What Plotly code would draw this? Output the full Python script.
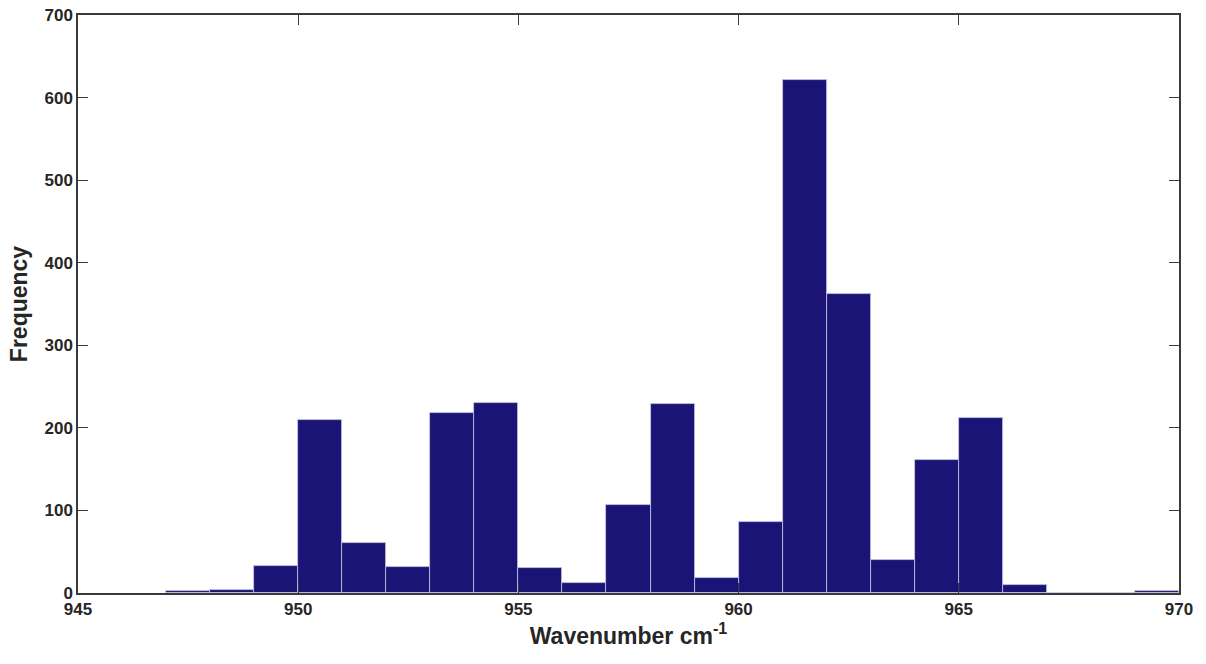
import plotly.graph_objects as go

bin_left = [947, 948, 949, 950, 951, 952, 953, 954, 955, 956, 957, 958, 959,
            960, 961, 962, 963, 964, 965, 966, 967, 968, 969]
counts = [2, 4, 33, 210, 61, 32, 218, 230, 30, 12, 107, 229, 18,
          86, 621, 362, 40, 161, 212, 10, 0, 0, 2]
x_ticks = [945, 950, 955, 960, 965, 970]
y_ticks = [0, 100, 200, 300, 400, 500, 600, 700]

fig = go.Figure(go.Bar(
    x=bin_left, y=counts, offset=0, width=1,
    marker=dict(color="#1a1476", line=dict(color="#c8c8e6", width=0.8)),
))

axis_common = dict(
    showline=True, linecolor="#3a3a3a", linewidth=1.5, mirror="ticks",
    ticks="inside", ticklen=10, tickwidth=1.2, tickcolor="#3a3a3a",
    showgrid=False, zeroline=False, automargin=False,
    tickfont=dict(family="Liberation Sans, Arial", size=17, color="#262626", weight="bold"),
)

fig.update_layout(
    width=1206, height=664,
    paper_bgcolor="white", plot_bgcolor="white",
    margin=dict(l=78, r=27, t=15, b=71),
    showlegend=False, bargap=0,
    xaxis=dict(range=[945, 970], tickvals=x_ticks,
               title=dict(text="Wavenumber cm<sup>-1</sup>", standoff=8,
                          font=dict(family="Liberation Sans, Arial", size=23, color="#262626", weight="bold")),
               **axis_common),
    yaxis=dict(range=[0, 700], tickvals=y_ticks,
               title=dict(text="Frequency", standoff=10,
                          font=dict(family="Liberation Sans, Arial", size=23, color="#262626", weight="bold")),
               **axis_common),
)

fig.write_html("out.html")
